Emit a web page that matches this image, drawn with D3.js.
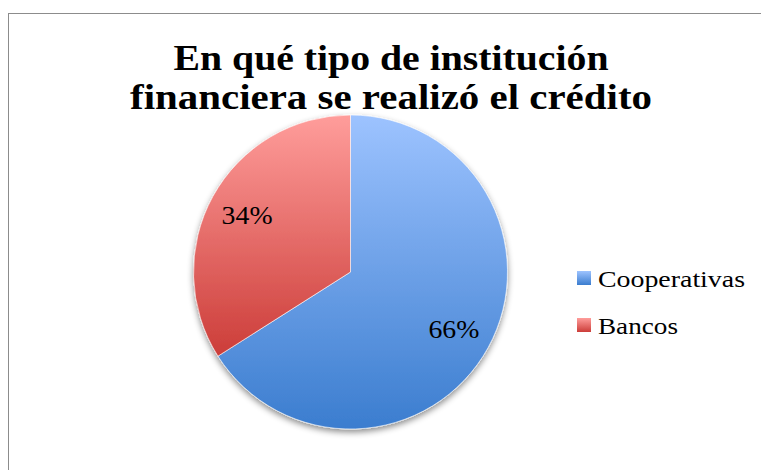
<!DOCTYPE html>
<html lang="es">
<head>
<meta charset="UTF-8">
<title>Institución financiera</title>
<style>
    body { margin: 0; background: #fff; }
    svg { display: block; }
</style>
</head>
<body>
<svg></svg>
<script src="https://d3js.org/d3.v7.min.js"></script>
<script>
    // datos
    var categories = ["Cooperativas", "Bancos"];
    var values = [66, 34];
    var labels = ["66%", "34%"];
    var titleLines = ["En qué tipo de institución", "financiera se realizó el crédito"];

    var width = 761, height = 470;
    var cx = 350.5, cy = 272, radius = 157;
    var serif = "'Liberation Serif', 'DejaVu Serif', serif";

    var svg = d3.select("svg").attr("width", width).attr("height", height);
    var defs = svg.append("defs");

    var gradColors = [["#9dc3ff", "#3b7dcf"], ["#ff9d9b", "#cc3d39"]];
    gradColors.forEach(function (c, i) {
        var g = defs.append("linearGradient").attr("id", "grad" + i)
            .attr("x1", 0).attr("y1", 0).attr("x2", 0).attr("y2", 1);
        g.append("stop").attr("offset", "0%").attr("stop-color", c[0]);
        g.append("stop").attr("offset", "100%").attr("stop-color", c[1]);
    });

    var shadow = defs.append("filter").attr("id", "shadow")
        .attr("x", "-10%").attr("y", "-10%").attr("width", "120%").attr("height", "125%");
    shadow.append("feDropShadow").attr("dx", 0).attr("dy", 3).attr("stdDeviation", 3)
        .attr("flood-color", "#000").attr("flood-opacity", 0.45);

    // marco
    svg.append("rect").attr("x", 8.5).attr("y", 13.5).attr("width", 800).attr("height", 500)
        .attr("fill", "#fff").attr("stroke", "#8c8c8c").attr("stroke-width", 1);

    // título
    var titleWidths = [435, 522];
    svg.append("g").selectAll("text").data(titleLines).enter().append("text")
        .attr("x", 391).attr("y", function (d, i) { return 70 + i * 39; })
        .attr("text-anchor", "middle")
        .attr("font-family", serif).attr("font-weight", "bold").attr("font-size", 35)
        .attr("textLength", function (d, i) { return titleWidths[i]; })
        .attr("lengthAdjust", "spacingAndGlyphs")
        .attr("fill", "#000")
        .text(function (d) { return d; });

    var pie = d3.pie().sort(null).value(function (d) { return d; });
    var arcs = pie(values);
    var arc = d3.arc().innerRadius(0).outerRadius(radius);
    var labelArc = d3.arc().innerRadius(118).outerRadius(118);

    var g = svg.append("g").attr("transform", "translate(" + cx + "," + cy + ")");
    g.append("g").attr("filter", "url(#shadow)").selectAll("path").data(arcs).enter().append("path")
        .attr("d", arc)
        .attr("fill", function (d, i) { return "url(#grad" + i + ")"; })
        .attr("stroke", "#fff").attr("stroke-width", 0.6);

    g.selectAll("text.lbl").data(arcs).enter().append("text").attr("class", "lbl")
        .attr("transform", function (d) { return "translate(" + labelArc.centroid(d) + ")"; })
        .attr("text-anchor", "middle").attr("dy", "0.35em")
        .attr("font-family", serif).attr("font-size", 26).attr("fill", "#000")
        .attr("textLength", 51).attr("lengthAdjust", "spacingAndGlyphs")
        .text(function (d, i) { return labels[i]; });

    // leyenda
    var legendWidths = [147, 80];
    var legend = svg.append("g").attr("transform", "translate(577,271)");
    var items = legend.selectAll("g").data(categories).enter().append("g")
        .attr("transform", function (d, i) { return "translate(0," + i * 47 + ")"; });
    items.append("rect").attr("width", 14).attr("height", 14)
        .attr("fill", function (d, i) { return "url(#grad" + i + ")"; });
    items.append("text").attr("x", 21).attr("y", 7).attr("dy", "0.36em")
        .attr("font-family", serif).attr("font-size", 24).attr("fill", "#000")
        .attr("textLength", function (d, i) { return legendWidths[i]; })
        .attr("lengthAdjust", "spacingAndGlyphs")
        .text(function (d) { return d; });
</script>
</body>
</html>
